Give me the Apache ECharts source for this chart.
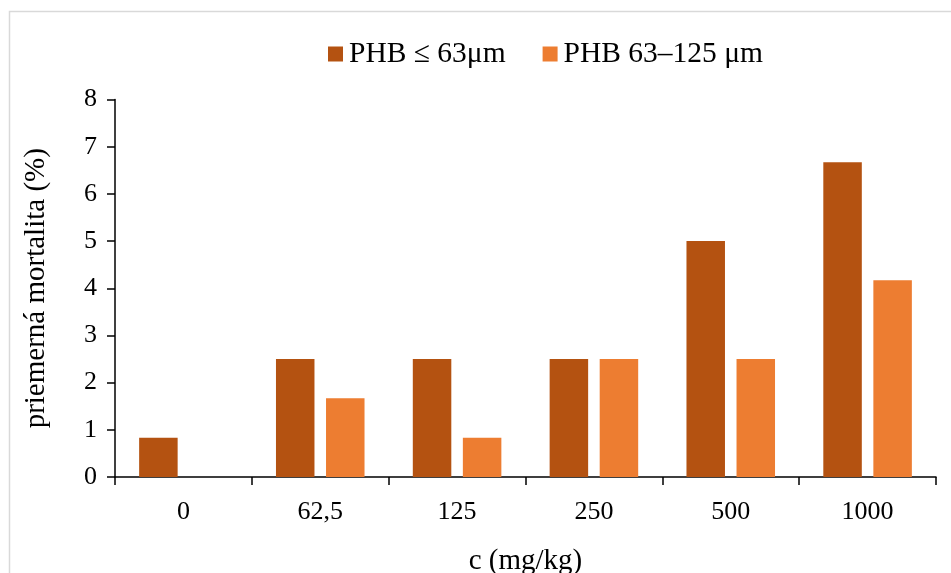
<!DOCTYPE html>
<html>
<head>
<meta charset="utf-8">
<script src="https://cdn.jsdelivr.net/npm/echarts@6/dist/echarts.min.js"></script>
<style>
html,body{margin:0;padding:0;background:#fff;}
#chart{width:951px;height:573px;}
</style>
</head>
<body>
<div id="chart"></div>
<script>
const categories = ['0', '62,5', '125', '250', '500', '1000'];
const seriesNames = ['PHB \u2264 63\u03bcm', 'PHB 63\u2013125 \u03bcm'];
const fineValues = [0.83, 2.5, 2.5, 2.5, 5, 6.67];
const coarseValues = [0, 1.67, 0.83, 2.5, 2.5, 4.17];
const yTicks = [0, 1, 2, 3, 4, 5, 6, 7, 8];

const FONT = "'Liberation Serif', 'Times New Roman', serif";
const chart = echarts.init(document.getElementById('chart'), null, {renderer: 'canvas'});
chart.setOption({
  animation: false,
  backgroundColor: '#fff',
  textStyle: {fontFamily: FONT, color: '#000'},
  graphic: [{
    type: 'rect',
    shape: {x: 9.5, y: 11.5, width: 960, height: 620},
    style: {fill: 'none', stroke: '#d9d9d9', lineWidth: 1.5},
    silent: true
  }],
  legend: {
    left: 323,
    top: 34,
    itemWidth: 15,
    itemHeight: 15,
    itemGap: 37,
    icon: 'rect',
    textStyle: {fontFamily: FONT, fontSize: 29.5, color: '#000', padding: [0, 0, 0, 1]},
    data: seriesNames
  },
  grid: {left: 115, right: 15, top: 99.5, bottom: 96, containLabel: false, outerBoundsMode: 'none'},
  xAxis: {
    type: 'category',
    data: categories,
    name: 'c (mg/kg)',
    nameLocation: 'middle',
    nameGap: 70,
    nameTextStyle: {fontFamily: FONT, fontSize: 29, color: '#000'},
    axisLine: {lineStyle: {color: '#000', width: 1.5}},
    axisTick: {show: true, length: 8, lineStyle: {color: '#000', width: 1.5}},
    axisLabel: {fontFamily: FONT, fontSize: 26, color: '#000', margin: 22}
  },
  yAxis: {
    type: 'value',
    min: yTicks[0],
    max: yTicks[yTicks.length - 1],
    interval: 1,
    name: 'priemern\u00e1 mortalita (%)',
    nameLocation: 'middle',
    nameGap: 64,
    nameTextStyle: {fontFamily: FONT, fontSize: 29, color: '#000'},
    axisLine: {show: true, lineStyle: {color: '#000', width: 1.5}},
    axisTick: {show: true, length: 8, lineStyle: {color: '#000', width: 1.5}},
    axisLabel: {fontFamily: FONT, fontSize: 26, color: '#000', margin: 18},
    splitLine: {show: false}
  },
  series: [
    {
      name: seriesNames[0],
      type: 'bar',
      data: fineValues,
      barWidth: 38.5,
      barGap: '30%',
      itemStyle: {color: '#B45211'}
    },
    {
      name: seriesNames[1],
      type: 'bar',
      data: coarseValues,
      barWidth: 38.5,
      itemStyle: {color: '#ED7D31'}
    }
  ]
});
</script>
</body>
</html>
